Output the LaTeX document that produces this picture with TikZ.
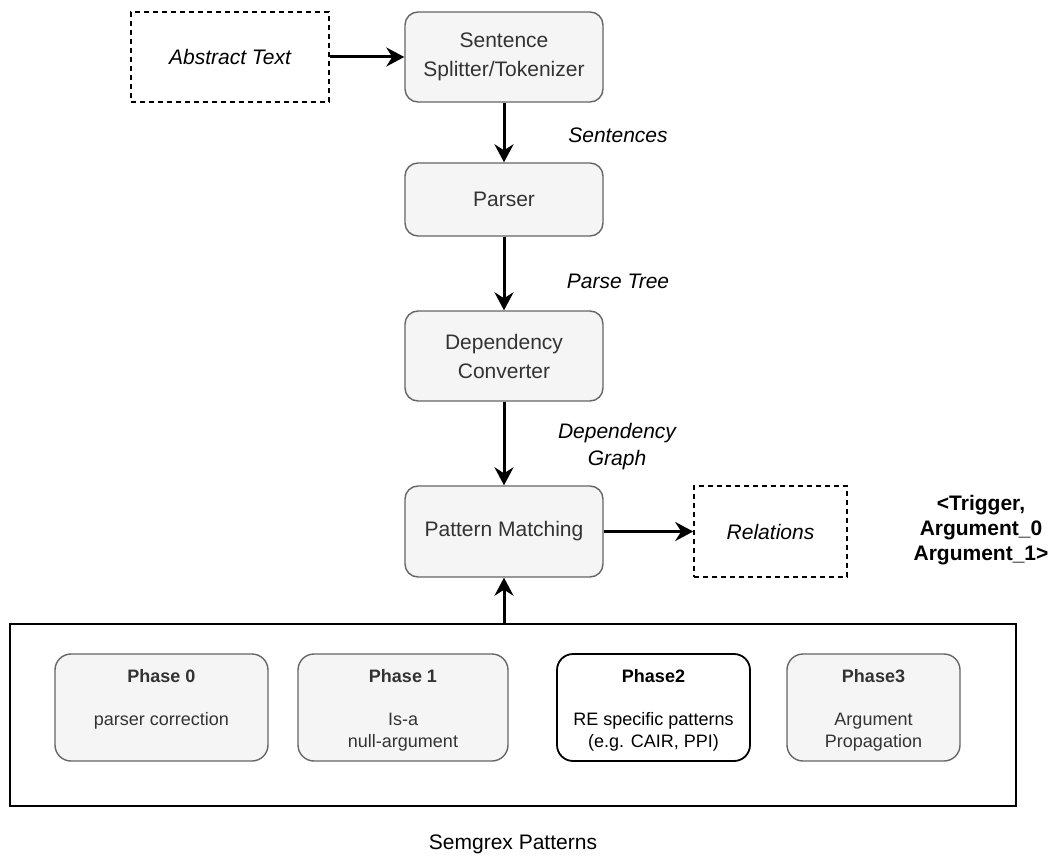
\documentclass[tikz,border=0pt]{standalone}
\usepackage{fontspec}
\setmainfont{Liberation Sans}
\usetikzlibrary{arrows.meta}
\definecolor{boxfill}{HTML}{F5F5F5}
\definecolor{boxdraw}{HTML}{666666}
\definecolor{boxtext}{HTML}{333333}
\tikzset{
  procbox/.style={draw=boxdraw, fill=boxfill, line width=1.4pt, rounded corners=13pt,
    text=boxtext, minimum width=198pt, align=center, inner sep=0pt,
    font=\fontsize{21}{29}\selectfont},
  dashbox/.style={draw=black, dash pattern=on 5pt off 4pt, line width=1.6pt, fill=white,
    inner sep=0pt, font=\fontsize{21}{25}\selectfont\itshape},
  phasebox/.style={draw=boxdraw, fill=boxfill, line width=1.4pt, rounded corners=16pt,
    inner sep=0pt, minimum height=107pt},
  phasedark/.style={draw=black, fill=white, line width=1.8pt, rounded corners=16pt,
    inner sep=0pt, minimum height=107pt},
  phasetitle/.style={font=\fontsize{18}{22}\selectfont\bfseries, text=boxtext, inner sep=0pt},
  phasetext/.style={font=\fontsize{18}{22}\selectfont, text=boxtext, align=center, inner sep=0pt},
  edgelabel/.style={font=\fontsize{21}{27}\selectfont\itshape, align=center, inner sep=0pt},
  arr/.style={line width=3pt, -{Stealth[length=18pt,width=19pt,inset=6pt]}},
  frame/.style={draw=black, line width=1.6pt, inner sep=0pt}
}
\begin{document}
\begin{tikzpicture}[x=1pt,y=-1pt]
\useasboundingbox (0,0) rectangle (1054,856);

% main chain
\node[dashbox, minimum width=198pt, minimum height=90pt] (abs) at (230,57) {Abstract Text};
\node[procbox, minimum height=90pt] (split) at (504,57) {Sentence\\Splitter/Tokenizer};
\node[procbox, minimum height=73pt] (parser) at (504,199.5) {Parser};
\node[procbox, minimum height=90pt] (dep) at (504,356) {Dependency\\Converter};
\node[procbox, minimum height=91pt] (pm) at (504,531.5) {Pattern Matching};
\node[dashbox, minimum width=153pt, minimum height=91pt] (rel) at (770.5,531.5) {Relations};

% labels
\node[edgelabel] (lsent) at (618,135) {Sentences};
\node[edgelabel] (lparse) at (618,281) {Parse Tree};
\node[edgelabel] (ldep) at (617,447) {Dependency\\Graph};
\node[font=\fontsize{21}{25}\selectfont\bfseries, align=center, inner sep=0pt] (trig) at (981,530)
  {<Trigger,\\Argument\_0\\Argument\_1>};

% frame with phases
\node[frame, minimum width=1006pt, minimum height=182pt] (frm) at (513,715) {};
\node[phasebox, minimum width=213pt] (ph0) at (161.5,707.5) {};
\node[phasebox, minimum width=210pt] (ph1) at (403,707.5) {};
\node[phasedark, minimum width=193pt] (ph2) at (653.5,707.5) {};
\node[phasebox, minimum width=173pt] (ph3) at (873.5,707.5) {};

\node[phasetitle] (ph0t) at (161.5,676) {Phase 0};
\node[phasetext] (ph0x) at (161.5,721) {parser correction};
\node[phasetitle] (ph1t) at (403,676) {Phase 1};
\node[phasetext] (ph1x) at (403,732) {Is-a\\null-argument};
\node[phasetitle, text=black] (ph2t) at (653.5,676) {Phase2};
\node[phasetext, text=black] (ph2x) at (653.5,732) {RE specific patterns\\(e.g. CAIR, PPI)};
\node[phasetitle] (ph3t) at (873.5,676) {Phase3};
\node[phasetext] (ph3x) at (873.5,732) {Argument\\Propagation};

\node[font=\fontsize{21}{25}\selectfont, inner sep=0pt] (sem) at (513,844) {Semgrex Patterns};

% connectors
\draw[arr] (abs.east) -- (split.west);
\draw[arr] (split.south) -- (parser.north);
\draw[arr] (parser.south) -- (dep.north);
\draw[arr] (dep.south) -- (pm.north);
\draw[arr] (pm.east) -- (rel.west);
\draw[arr] (pm.south |- frm.north) -- (pm.south);
\end{tikzpicture}
\end{document}
